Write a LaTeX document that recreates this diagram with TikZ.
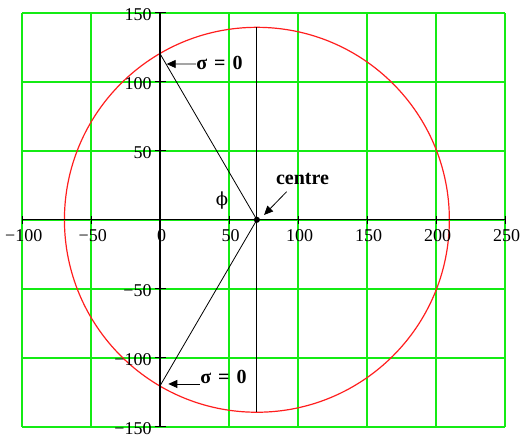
\documentclass[tikz,border=0pt]{standalone}
\usepackage{fontspec}
\setmainfont{Liberation Serif}
\newfontfamily\phifont{DejaVu Serif}
\usepackage{tikz}
\usetikzlibrary{arrows.meta,positioning}
\definecolor{gridgreen}{RGB}{20,235,20}
\definecolor{circred}{RGB}{255,30,30}

\begin{document}
\begin{tikzpicture}[x=1.38pt,y=1.38pt,
	gridline/.style={color=gridgreen,line width=2pt},
	thinline/.style={line width=0.8pt},
	pointer/.style={line width=0.8pt,-{Triangle[length=9pt,width=8pt]}},
	numlabel/.style={font=\fontsize{18}{20}\selectfont,inner sep=0pt},
	sigmalabel/.style={font=\fontsize{20}{22}\selectfont\bfseries,inner sep=0pt}]
				%\draw[color=gray,step=10, help lines,opacity=0.3] (-100,-150) grid (250,150); %help grids
				\useasboundingbox (-116.2,-156.7) rectangle (260.7,159.3);
				\foreach \gx in {-100,-50,...,250}
					\draw[gridline] (\gx,-150)--(\gx,150);
				\foreach \gy in {-150,-100,...,150}
					\draw[gridline] (-100,\gy)--(250,\gy);

				\coordinate (ctr) at (70,0);
				\coordinate (stoppt) at (0,120);
				\coordinate (sbotpt) at (0,-120);
				\coordinate (vtop) at (70,139.5);
				\coordinate (vbot) at (70,-139.5);
				\draw[color=circred,line width=1.2pt] (ctr) circle [radius=139.5];

				\draw[line width=1pt] (-100,0)--(250,0);
				\draw[line width=1.8pt] (0,-150)--(0,150);
				\foreach \gx in {-100,-50,...,250}
					\draw[thinline] (\gx,-3)--(\gx,3);
				\foreach \gy in {-150,-100,...,150}
					\draw[thinline] (-4,\gy)--(4,\gy);

				\draw[thinline] (stoppt)--(ctr)--(sbotpt);
				\draw[thinline] (vtop)--(vbot);
				\fill (ctr) circle [radius=2.2];

				\foreach \gx/\txt in {-100/−100,-50/−50,0/0,50/50,100/100,150/150,200/200,250/250}
					\node[numlabel,anchor=base] (xl\gx) at (\gx+1,-15.4) {\txt};
				\foreach \gy/\txt in {-150/−150,-100/−100,-50/−50,50/50,100/100,150/150}
					\node[numlabel,anchor=base east] (yl\gy) at (-6.2,\gy-5.4) {\txt};

				\node[sigmalabel,anchor=base west] (sigtop) at (25.9,109.1) {σ\hspace{.35em}=\hspace{.35em}0};
				\coordinate (sigtoptip) at (4.6,112.9);
				\draw[pointer] ([yshift=5.3pt]sigtop.base west)--(sigtoptip);
				\node[sigmalabel,anchor=base west] (sigbot) at (28.8,-119) {σ\hspace{.35em}=\hspace{.35em}0};
				\coordinate (sigbottip) at (5.8,-119);
				\draw[pointer] (sigbot.base west)--(sigbottip);

				\node[font=\fontsize{20}{22}\selectfont\bfseries,inner sep=0pt,anchor=base] (centrelbl) at (103.1,25.9) {centre};
				\coordinate (centretip) at (75.2,3.5);
				\draw[pointer] ([xshift=-16pt,yshift=-7.7pt]centrelbl.base)--(centretip);

				\node[font=\fontsize{18}{20}\phifont,inner sep=0pt] (philbl) at (44.7,13.8) {ϕ};
\end{tikzpicture}
\end{document}
